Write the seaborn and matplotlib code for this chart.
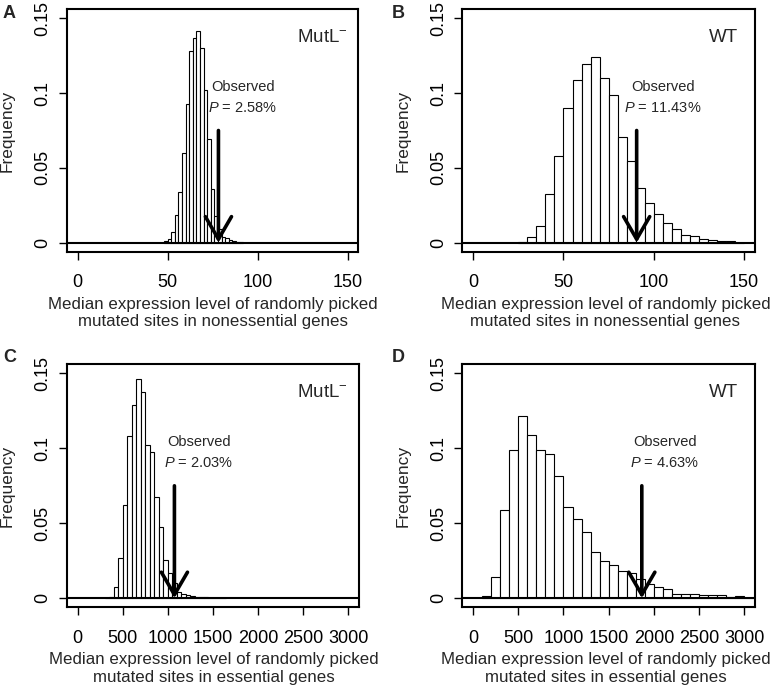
import numpy as np
import pandas as pd
import matplotlib
matplotlib.use("Agg")
import matplotlib.pyplot as plt
import seaborn as sns

# ---------------- data ----------------
# Panel A: MutL-, nonessential genes (bin width 2)
a_left = list(range(48, 92, 2))
a_freq = [0.001, 0.0025, 0.007, 0.0185, 0.034, 0.060, 0.093, 0.128, 0.137, 0.1415,
          0.130, 0.102, 0.069, 0.036, 0.018, 0.009, 0.004, 0.003, 0.002, 0.0012,
          0.0007, 0.0003]
a_obs = 78.3
a_p = "2.58%"

# Panel B: WT, nonessential genes (bin width 5)
b_left = list(range(25, 150, 5))
b_freq = [0.0003, 0.0036, 0.0115, 0.0325, 0.058, 0.0898, 0.1088, 0.1192, 0.1239,
          0.110, 0.099, 0.0705, 0.0548, 0.0366, 0.0264, 0.019, 0.0129, 0.0089,
          0.0049, 0.0042, 0.0025, 0.0018, 0.0013, 0.0013, 0.0]
b_obs = 90.5
b_p = "11.43%"

# Panel C: MutL-, essential genes (bin width 50)
c_left = list(range(300, 1650, 50))
c_freq = [0.0004, 0.0007, 0.0078, 0.0272, 0.062, 0.108, 0.1287, 0.1465, 0.1375,
          0.102, 0.0977, 0.0678, 0.0478, 0.0255, 0.0172, 0.010, 0.0045, 0.0027,
          0.0021, 0.0015, 0.0011, 0.0009, 0.0007, 0.0005, 0.0004, 0.0003, 0.0003]
c_obs = 1074
c_p = "2.03%"

# Panel D: WT, essential genes (bin width 100)
d_left = list(range(100, 3100, 100))
d_freq = [0.0017, 0.0145, 0.059, 0.0986, 0.1216, 0.109, 0.0988, 0.0962, 0.0815,
          0.0608, 0.053, 0.0442, 0.0308, 0.0246, 0.0219, 0.0184, 0.0166, 0.013,
          0.0095, 0.0073, 0.0064, 0.0028, 0.0028, 0.0028, 0.002, 0.002, 0.002,
          0.0012, 0.0017, 0.0005]
d_obs = 1867
d_p = "4.63%"

x_ticks_small = [0, 50, 100, 150]
x_ticks_large = [0, 500, 1000, 1500, 2000, 2500, 3000]
y_ticks = [0, 0.05, 0.1, 0.15]
y_ticklabels = ["0", "0.05", "0.1", "0.15"]

xlab_noness = "Median expression level of randomly picked\nmutated sites in nonessential genes"
xlab_ess = "Median expression level of randomly picked\nmutated sites in essential genes"

# ---------------- style ----------------
sns.set_style("ticks")
plt.rcParams["font.family"] = ["Liberation Sans", "DejaVu Sans"]
plt.rcParams["mathtext.fontset"] = "custom"
plt.rcParams["mathtext.rm"] = "Liberation Sans"
plt.rcParams["mathtext.it"] = "Liberation Sans:italic"

fig = plt.figure(figsize=(7.75, 6.87), dpi=100)

W, H = 775.0, 687.0
def axbox(l, t, r, b):
    return [l / W, 1 - b / H, (r - l) / W, (b - t) / H]

panels = [
    dict(letter="A", box=axbox(66.7, 9.3, 358.3, 251.7), left=a_left, freq=a_freq, width=2,
         xmax=150, xticks=x_ticks_small, obs=a_obs, p=a_p, tx=91.8, label="MutL$^{-}$",
         lx=150.4, xlabel=xlab_noness, lpos=(3, 13), labx=0.502),
    dict(letter="B", box=axbox(462.3, 9.3, 755.0, 251.7), left=b_left, freq=b_freq, width=5,
         xmax=150, xticks=x_ticks_small, obs=b_obs, p=b_p, tx=105.0, label="WT",
         lx=146.8, xlabel=xlab_noness, lpos=(392, 13), labx=0.489),
    dict(letter="C", box=axbox(66.7, 364.3, 359.0, 607.3), left=c_left, freq=c_freq, width=50,
         xmax=3000, xticks=x_ticks_large, obs=c_obs, p=c_p, tx=1344, label="MutL$^{-}$",
         lx=3001, xlabel=xlab_ess, lpos=(3, 358), labx=0.502),
    dict(letter="D", box=axbox(462.3, 364.3, 755.0, 607.3), left=d_left, freq=d_freq, width=100,
         xmax=3000, xticks=x_ticks_large, obs=d_obs, p=d_p, tx=2120, label="WT",
         lx=2931, xlabel=xlab_ess, lpos=(392, 358), labx=0.489),
]

for pn in panels:
    ax = fig.add_axes(pn["box"])
    wdt = float(pn["width"])
    left = [float(v) for v in pn["left"]]
    centers = [v + wdt / 2.0 for v in left]
    df = pd.DataFrame({"x": centers, "w": [float(f) for f in pn["freq"]]})
    sns.histplot(data=df, x="x", weights="w", binwidth=wdt,
                 binrange=(left[0], left[-1] + wdt), ax=ax,
                 color="white", edgecolor="black", linewidth=0.8, alpha=1)
    xm = pn["xmax"]
    ax.set_xlim(-0.04 * xm, 1.04 * xm)
    ax.set_ylim(-0.006, 0.156)
    ax.axhline(0, color="black", lw=1.5, zorder=3)
    ax.set_xticks(pn["xticks"])
    ax.set_xticklabels([str(t) for t in pn["xticks"]])
    ax.set_yticks(y_ticks)
    ax.set_yticklabels(y_ticklabels, rotation=90, va="center")
    ax.tick_params(axis="both", labelsize=13, length=6, width=1, color="black",
                   labelcolor="black")
    ax.tick_params(axis="x", pad=10)
    ax.tick_params(axis="y", pad=5)
    for s in ax.spines.values():
        s.set_visible(True)
        s.set_linewidth(1.5)
        s.set_color("black")
    ax.set_xlabel(pn["xlabel"], fontsize=12.2, linespacing=1.2)
    ax.xaxis.set_label_coords(pn["labx"], -0.185)
    ax.xaxis.label.set_va("top")
    ax.set_ylabel("Frequency", fontsize=12.5)
    ax.yaxis.set_label_coords(-0.178, 0.5)

    # observed arrow
    ax.annotate("", xy=(pn["obs"], 0.0), xytext=(pn["obs"], 0.075),
                xycoords="data", textcoords="data",
                arrowprops=dict(arrowstyle="->,head_length=1.62,head_width=0.94",
                                lw=2.6, color="black", shrinkA=0, shrinkB=0,
                                mutation_scale=10),
                zorder=5)
    ax.text(pn["tx"], 0.104, "Observed", ha="center", va="center", fontsize=10.5)
    ax.text(pn["tx"], 0.090, "$\\mathit{P}$ = " + pn["p"], ha="center", va="center",
            fontsize=10.5)
    ax.text(pn["lx"], 0.137, pn["label"], ha="right", va="center", fontsize=13.5)

    fig.text(pn["lpos"][0] / W, 1 - pn["lpos"][1] / H, pn["letter"], ha="left",
             va="center", fontsize=13, fontweight="bold")

fig.savefig("out.png", dpi=100)
